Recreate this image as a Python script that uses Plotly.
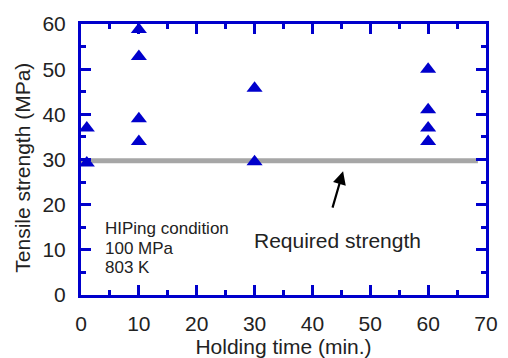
import plotly.graph_objects as go

# Data
hold_time = [1, 1, 10, 10, 10, 10, 30, 30, 60, 60, 60, 60]
strength = [37, 29.2, 58.8, 52.8, 39, 34, 45.8, 29.5, 50, 41, 37, 34]
required_strength = 29.7
line_x = [0, 68.6]
note_lines = ["HIPing condition", "100 MPa", "803 K"]
note_y = [14.8, 10.4, 6.0]

BLUE = "#0000CC"
FONT = "Arial, Liberation Sans, sans-serif"
TXT = "#222"

fig = go.Figure()
fig.add_trace(go.Scatter(x=line_x, y=[required_strength] * 2, mode="lines",
                         line=dict(color="#A6A6A6", width=5), showlegend=False,
                         hoverinfo="skip", cliponaxis=False))
fig.add_trace(go.Scatter(x=hold_time, y=strength, mode="markers",
                         marker=dict(symbol="triangle-up", size=14, color=BLUE,
                                     line=dict(width=0)),
                         showlegend=False, cliponaxis=False))

fig.add_annotation(x=45.3, y=27.4, ax=43.4, ay=19.0, xref="x", yref="y",
                   axref="x", ayref="y", showarrow=True, arrowhead=2,
                   arrowsize=1.2, arrowwidth=2.2, arrowcolor="black", text="")
fig.add_annotation(x=44.3, y=12.0, xref="x", yref="y", text="Required strength",
                   showarrow=False, font=dict(size=21, color=TXT, family=FONT))
for line, yy in zip(note_lines, note_y):
    fig.add_annotation(x=3.8, y=yy, xref="x", yref="y", xanchor="left", yanchor="middle",
                       text=line, align="left", showarrow=False,
                       font=dict(size=17, color=TXT, family=FONT))

# y-axis title placed as rotated text left of the tick labels
fig.add_annotation(x=-0.143, y=0.47, xref="paper", yref="paper", text="Tensile strength (MPa)",
                   textangle=-90, showarrow=False, xanchor="center", yanchor="middle",
                   font=dict(size=21, color=TXT, family=FONT))

axis_common = dict(showline=True, linecolor=BLUE, linewidth=3, mirror="ticks",
                   ticks="inside", ticklen=10, tickwidth=3, tickcolor=BLUE,
                   showgrid=False, zeroline=False, ticklabelstandoff=8,
                   automargin=False,
                   tickfont=dict(size=21, color=TXT, family=FONT),
                   minor=dict(ticks="inside", ticklen=5, tickwidth=3, tickcolor=BLUE))

fig.update_xaxes(range=[0, 70], dtick=10, minor_dtick=5, **axis_common,
                 title=dict(text="Holding time (min.)", font=dict(size=21, color=TXT, family=FONT)))
fig.update_yaxes(range=[0, 60], dtick=10, minor_dtick=5, **axis_common)

fig.update_layout(width=508, height=358, margin=dict(l=81, r=22, t=24, b=63),
                  plot_bgcolor="white", paper_bgcolor="white",
                  font=dict(family=FONT, color=TXT))

fig.write_html("out.html")
